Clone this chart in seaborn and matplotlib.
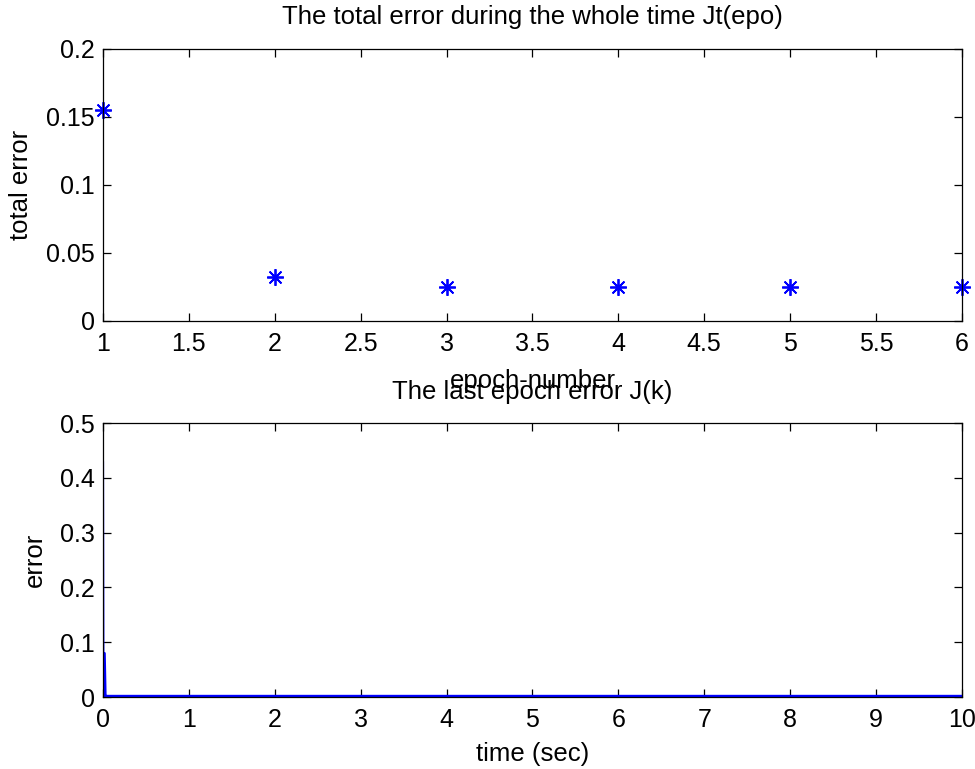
import matplotlib
matplotlib.use("Agg")
import matplotlib.pyplot as plt
import seaborn as sns
import pandas as pd

# Data
epochs = [1, 2, 3, 4, 5, 6]
total_error = [0.155, 0.032, 0.025, 0.025, 0.025, 0.025]

time_sec = [0.0, 0.005, 0.01, 0.02, 0.03, 0.04, 10.0]
last_err = [0.43, 0.0, 0.08, 0.08, 0.0, 0.002, 0.002]

top_xticks = [1, 1.5, 2, 2.5, 3, 3.5, 4, 4.5, 5, 5.5, 6]
top_xlabels = ["1", "1.5", "2", "2.5", "3", "3.5", "4", "4.5", "5", "5.5", "6"]
top_yticks = [0, 0.05, 0.1, 0.15, 0.2]
top_ylabels = ["0", "0.05", "0.1", "0.15", "0.2"]
bot_xticks = list(range(0, 11))
bot_yticks = [0, 0.1, 0.2, 0.3, 0.4, 0.5]
bot_ylabels = ["0", "0.1", "0.2", "0.3", "0.4", "0.5"]

sns.set_theme(style="white")
plt.rcParams["font.family"] = ["Liberation Sans", "DejaVu Sans"]
plt.rcParams["text.color"] = "black"
plt.rcParams["axes.labelcolor"] = "black"
FS_TICK = 18
FS = 18.5

fig = plt.figure(figsize=(9.75, 7.69), dpi=100)
ax1 = fig.add_axes([0.1056, 0.5826, 0.881, 0.3537])
ax2 = fig.add_axes([0.1056, 0.0936, 0.881, 0.3563])

df1 = pd.DataFrame({"epoch": epochs, "err": total_error})
sns.lineplot(data=df1, x="epoch", y="err", ax=ax1, linestyle="none",
             marker=(8, 2, 0), markersize=12, color="#0000ff",
             markeredgecolor="#0000ff", markeredgewidth=1.3,
             estimator=None, sort=False, clip_on=False)

df2 = pd.DataFrame({"t": time_sec, "e": last_err})
sns.lineplot(data=df2, x="t", y="e", ax=ax2, color="#0000ff", linewidth=1.6,
             estimator=None, sort=False)

for ax in (ax1, ax2):
    for s in ax.spines.values():
        s.set_visible(True)
        s.set_color("black")
        s.set_linewidth(0.9)
    ax.tick_params(direction="in", length=6, width=0.9, top=True, right=True,
                   bottom=True, left=True, labelsize=FS_TICK, colors="black")
    ax.tick_params(axis="x", pad=8)
    ax.tick_params(axis="y", pad=6)
    ax.grid(False)

ax1.set_xlim(1, 6)
ax1.set_ylim(0, 0.2)
ax1.set_xticks(top_xticks)
ax1.set_xticklabels(top_xlabels)
ax1.set_yticks(top_yticks)
ax1.set_yticklabels(top_ylabels)
ax1.set_xlabel("epoch-number", fontsize=FS, labelpad=9)
ax1.set_ylabel("total error", fontsize=FS, labelpad=9)
ax1.set_title("The total error during the whole time Jt(epo)", fontsize=FS, pad=18)

ax2.set_xlim(0, 10)
ax2.set_ylim(0, 0.5)
ax2.set_xticks(bot_xticks)
ax2.set_yticks(bot_yticks)
ax2.set_yticklabels(bot_ylabels)
ax2.set_xlabel("time (sec)", fontsize=FS, labelpad=7)
ax2.set_ylabel("error", fontsize=FS, labelpad=9)
ax2.set_title("The last epoch error J(k)", fontsize=FS, pad=17)

fig.savefig("out.png", dpi=100, facecolor="white")
